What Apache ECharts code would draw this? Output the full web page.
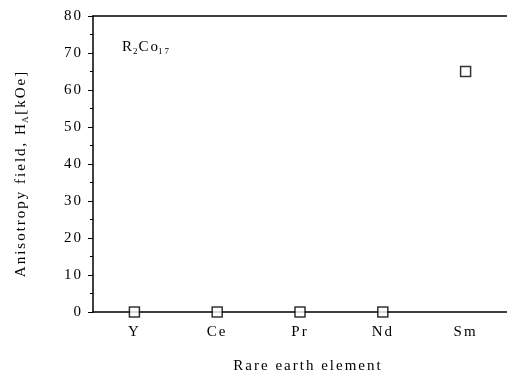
<!DOCTYPE html>
<html><head><meta charset="utf-8">
<script src="https://cdn.jsdelivr.net/npm/echarts@6/dist/echarts.min.js"></script>
<style>html,body{margin:0;padding:0;background:#fff}#c{width:507px;height:379px}</style>
</head><body><div id="c"></div>
<script>
const categories = ['Y', 'Ce', 'Pr', 'Nd', 'Sm'];
const anisotropyField = [0, 0, 0, 0, 65];
const yTicks = [0, 10, 20, 30, 40, 50, 60, 70, 80];

const FONT = 'Liberation Serif';
const LS = 2; // letter spacing (px) of the reference's text
// apply letter spacing to drawn text on the chart canvas
const origFill = CanvasRenderingContext2D.prototype.fillText;
CanvasRenderingContext2D.prototype.fillText = function (t, x, y, w) {
  if (this.canvas && this.canvas.closest && this.canvas.closest('#c')) this.letterSpacing = LS + 'px';
  return w === undefined ? origFill.call(this, t, x, y) : origFill.call(this, t, x, y, w);
};
const H = LS / 2;

const chart = echarts.init(document.getElementById('c'), null, { renderer: 'canvas' });
chart.setOption({
  animation: false,
  backgroundColor: '#fff',
  textStyle: { fontFamily: FONT },
  grid: { left: 93, top: 16, width: 415, height: 300.5 },
  xAxis: [{
    type: 'category', data: categories, boundaryGap: true, position: 'bottom',
    axisLine: { lineStyle: { color: '#000', width: 1.5 } },
    axisTick: { alignWithLabel: true, length: 5, inside: false, lineStyle: { color: '#000' } },
    axisLabel: { color: '#000', fontFamily: FONT, fontSize: 15, margin: 13 },
    name: 'Rare earth element', nameLocation: 'middle', nameGap: 47,
    nameTextStyle: { color: '#000', fontFamily: FONT, fontSize: 15, padding: [0, 0, 0, 16] },
    splitLine: { show: false }
  }, {
    type: 'category', data: categories, boundaryGap: true, position: 'bottom',
    axisLine: { show: false },
    axisTick: { length: 3, lineStyle: { color: '#000' } },
    axisLabel: { show: false }, splitLine: { show: false }
  }, {
    type: 'category', data: categories, boundaryGap: true, position: 'top',
    axisLine: { lineStyle: { color: '#000', width: 1.5 } },
    axisTick: { show: false }, axisLabel: { show: false }, splitLine: { show: false }
  }],
  yAxis: {
    type: 'value', min: 0, max: 80, interval: 10,
    axisLine: { show: true, lineStyle: { color: '#000', width: 1.5 } },
    axisTick: { show: true, length: 5, lineStyle: { color: '#000' } },
    minorTick: { show: true, splitNumber: 2, length: 3, lineStyle: { color: '#000' } },
    axisLabel: { color: '#000', fontFamily: FONT, fontSize: 15, margin: 10,
      formatter: v => yTicks.includes(v) ? String(v) : '' },
    splitLine: { show: false },
    name: '{n|Anisotropy field, H}{s|A}{m| [kOe]}', nameLocation: 'middle', nameGap: 63,
    nameTextStyle: { rich: {
      n: { fontFamily: FONT, fontSize: 15, color: '#000', padding: [0, 19 * H, 0, 0] },
      s: { fontFamily: FONT, fontSize: 9, color: '#000', padding: [9, H, 0, 0] },
      m: { fontFamily: FONT, fontSize: 15, color: '#000', padding: [0, 6 * H, 0, 0] }
    } }
  },
  graphic: [{
    type: 'text', left: 122, top: 40,
    style: {
      text: '{n|R}{s|2}{m|Co}{s2|17}',
      rich: {
        n: { fontFamily: FONT, fontSize: 15, fill: '#000', padding: [0, H, 0, 0] },
        s: { fontFamily: FONT, fontSize: 9, fill: '#000', padding: [9, H, 0, 0] },
        m: { fontFamily: FONT, fontSize: 15, fill: '#000', padding: [0, 2 * H, 0, 0] },
        s2: { fontFamily: FONT, fontSize: 9, fill: '#000', padding: [9, 2 * H, 0, 0] }
      }
    }
  }],
  series: [{
    type: 'scatter', xAxisIndex: 0, data: anisotropyField,
    symbol: 'rect', symbolSize: 10,
    itemStyle: { color: '#fff', borderColor: '#000', borderWidth: 1.5 },
    z: 10
  }]
});
</script></body></html>
